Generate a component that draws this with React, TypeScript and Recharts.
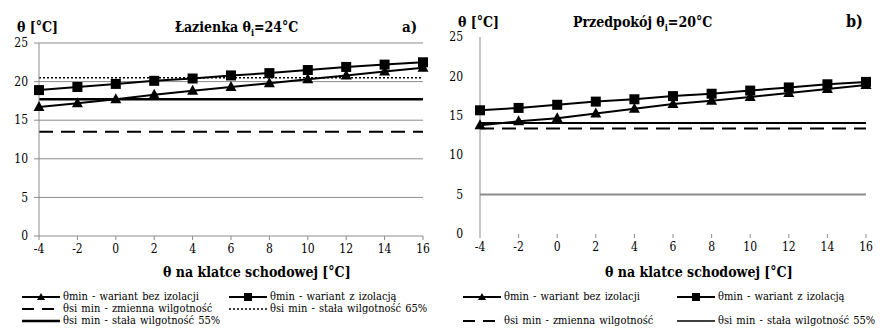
import React from 'react'
import { LineChart, Line, XAxis, YAxis, CartesianGrid, ReferenceLine } from 'recharts'

const temps = [-4, -2, 0, 2, 4, 6, 8, 10, 12, 14, 16]
const yTicks = [0, 5, 10, 15, 20, 25]

// Łazienka
const bathNoIns = [16.7, 17.2, 17.7, 18.3, 18.8, 19.3, 19.8, 20.3, 20.8, 21.3, 21.8]
const bathIns = [18.9, 19.3, 19.7, 20.1, 20.4, 20.8, 21.1, 21.5, 21.9, 22.2, 22.5]
const bathVariable = 13.5
const bath65 = 20.5
const bath55 = 17.7

// Przedpokój
const hallNoIns = [13.8, 14.3, 14.7, 15.3, 15.9, 16.5, 16.9, 17.4, 17.9, 18.4, 18.9]
const hallIns = [15.7, 16.0, 16.4, 16.8, 17.1, 17.5, 17.8, 18.2, 18.6, 19.0, 19.3]
const hallVariable = 13.4
const hall55 = 14.1
const hallGray = 5

const FONT = '"DejaVu Serif Condensed", "DejaVu Serif", serif'

const bathData = temps.map((t, i) => ({ t, a: bathNoIns[i], b: bathIns[i] }))
const hallData = temps.map((t, i) => ({ t, a: hallNoIns[i], b: hallIns[i] }))

const Tri = (p: any) => {
  if (p.cx == null || p.cy == null) return <g key={`t${p.index}`} />
  const { cx, cy } = p
  return <path key={`t${p.index}`} d={`M${cx},${cy - 6} L${cx + 5.5},${cy + 4} L${cx - 5.5},${cy + 4} Z`} fill="#000" />
}

const Sq = (p: any) => {
  if (p.cx == null || p.cy == null) return <g key={`s${p.index}`} />
  return <rect key={`s${p.index}`} x={p.cx - 5} y={p.cy - 5} width={10} height={10} fill="#000" />
}

const tickStyle = { fontSize: 12, fill: '#000', fontFamily: FONT, fontStretch: 'condensed' }

function LegendIcon({ kind }: { kind: string }) {
  return (
    <svg width={38} height={10} style={{ marginRight: 3, flexShrink: 0 }}>
      {kind === 'tri' && <><line x1={0} y1={5} x2={38} y2={5} stroke="#000" strokeWidth={2} /><path d="M19,1 L23,8 L15,8 Z" fill="#000" /></>}
      {kind === 'sq' && <><line x1={0} y1={5} x2={38} y2={5} stroke="#000" strokeWidth={2} /><rect x={15} y={1} width={8} height={8} fill="#000" /></>}
      {kind === 'dash' && <line x1={0} y1={5} x2={38} y2={5} stroke="#000" strokeWidth={2} strokeDasharray="12 8" />}
      {kind === 'dot' && <line x1={0} y1={5} x2={38} y2={5} stroke="#000" strokeWidth={1.5} strokeDasharray="2 2" />}
      {kind === 'solid' && <line x1={0} y1={5} x2={38} y2={5} stroke="#000" strokeWidth={2.5} />}
      {kind === 'thin' && <line x1={0} y1={5} x2={38} y2={5} stroke="#000" strokeWidth={1.5} />}
    </svg>
  )
}

function LegendItem({ kind, text, x, y }: { kind: string; text: string; x: number; y: number }) {
  return (
    <div style={{ position: 'absolute', left: x, top: y - 5, height: 10, display: 'flex', alignItems: 'center', fontFamily: FONT, fontStretch: 'condensed', fontSize: 11, lineHeight: '10px', whiteSpace: 'nowrap', wordSpacing: 1 }}>
      <LegendIcon kind={kind} />
      <span>{text}</span>
    </div>
  )
}

function Label({ x, y, children, size = 14, bold = true }: any) {
  return (
    <div style={{ position: 'absolute', left: x, top: y - size * 0.6, fontFamily: FONT, fontStretch: 'condensed', fontSize: size, fontWeight: bold ? 'bold' : 'normal', whiteSpace: 'nowrap', lineHeight: 1.2 }}>
      {children}
    </div>
  )
}

export default function App() {
  return (
    <div style={{ position: 'relative', width: 884, height: 332, background: '#fff', overflow: 'hidden' }}>
      <style>{`body{margin:0}`}</style>

      {/* a) Łazienka */}
      <div style={{ position: 'absolute', left: 0, top: 0 }}>
        <LineChart width={440} height={332} data={bathData} margin={{ top: 43, right: 17, bottom: 66, left: 0 }}>
          <CartesianGrid vertical={false} stroke="#8c8c8c" />
          <XAxis dataKey="t" height={30} interval={0} axisLine={false} tickLine={{ stroke: '#8c8c8c' }} tickSize={4} tick={tickStyle} tickMargin={4} />
          <YAxis domain={[0, 25]} ticks={yTicks} width={39} axisLine={{ stroke: '#8c8c8c' }} tickLine={{ stroke: '#8c8c8c' }} tickSize={5} tick={tickStyle} tickMargin={6} />
          <ReferenceLine y={bathVariable} stroke="#000" strokeWidth={2} strokeDasharray="14 8" />
          <ReferenceLine y={bath65} stroke="#000" strokeWidth={1.5} strokeDasharray="2 2" />
          <ReferenceLine y={bath55} stroke="#000" strokeWidth={2.5} />
          <Line dataKey="a" stroke="#000" strokeWidth={2} dot={Tri} isAnimationActive={false} />
          <Line dataKey="b" stroke="#000" strokeWidth={2} dot={Sq} isAnimationActive={false} />
        </LineChart>
      </div>

      {/* b) Przedpokój */}
      <div style={{ position: 'absolute', left: 440, top: 0 }}>
        <LineChart width={444} height={332} data={hallData} margin={{ top: 37, right: 18, bottom: 68, left: 0 }}>
          <XAxis dataKey="t" height={30} interval={0} axisLine={false} tickLine={{ stroke: '#8c8c8c' }} tickSize={4} tick={tickStyle} tickMargin={4} />
          <YAxis domain={[0, 25]} ticks={yTicks} width={40} axisLine={{ stroke: '#8c8c8c' }} tickLine={false} tick={tickStyle} tickMargin={11} />
          <ReferenceLine y={hallGray} stroke="#8c8c8c" strokeWidth={2} />
          <ReferenceLine y={hallVariable} stroke="#000" strokeWidth={2} strokeDasharray="14 8" />
          <ReferenceLine y={hall55} stroke="#000" strokeWidth={2} />
          <Line dataKey="a" stroke="#000" strokeWidth={2} dot={Tri} isAnimationActive={false} />
          <Line dataKey="b" stroke="#000" strokeWidth={2} dot={Sq} isAnimationActive={false} />
        </LineChart>
      </div>

      {/* titles */}
      <Label x={17} y={27}>θ [°C]</Label>
      <Label x={175} y={27}>Łazienka θ<sub style={{ fontSize: 9 }}>i</sub>=24°C</Label>
      <Label x={402} y={27} size={15}>a)</Label>
      <Label x={458} y={22}>θ [°C]</Label>
      <Label x={573} y={22}>Przedpokój θ<sub style={{ fontSize: 9 }}>i</sub>=20°C</Label>
      <Label x={846} y={22} size={16}>b)</Label>

      <Label x={163} y={272}>θ na klatce schodowej [°C]</Label>
      <Label x={605} y={272}>θ na klatce schodowej [°C]</Label>

      {/* legend a) */}
      <LegendItem kind="tri" text="θmin - wariant  bez izolacji" x={22} y={297} />
      <LegendItem kind="sq" text="θmin - wariant  z izolacją" x={229} y={297} />
      <LegendItem kind="dash" text="θsi min - zmienna  wilgotność" x={22} y={309} />
      <LegendItem kind="dot" text="θsi min - stała wilgotność 65%" x={229} y={309} />
      <LegendItem kind="solid" text="θsi min - stała wilgotność 55%" x={22} y={321} />

      {/* legend b) */}
      <LegendItem kind="tri" text="θmin - wariant  bez izolacji" x={463} y={297} />
      <LegendItem kind="sq" text="θmin - wariant  z izolacją" x={677} y={297} />
      <LegendItem kind="dash" text="θsi min - zmienna  wilgotność" x={463} y={321} />
      <LegendItem kind="thin" text="θsi min - stała wilgotność 55%" x={677} y={321} />
    </div>
  )
}
